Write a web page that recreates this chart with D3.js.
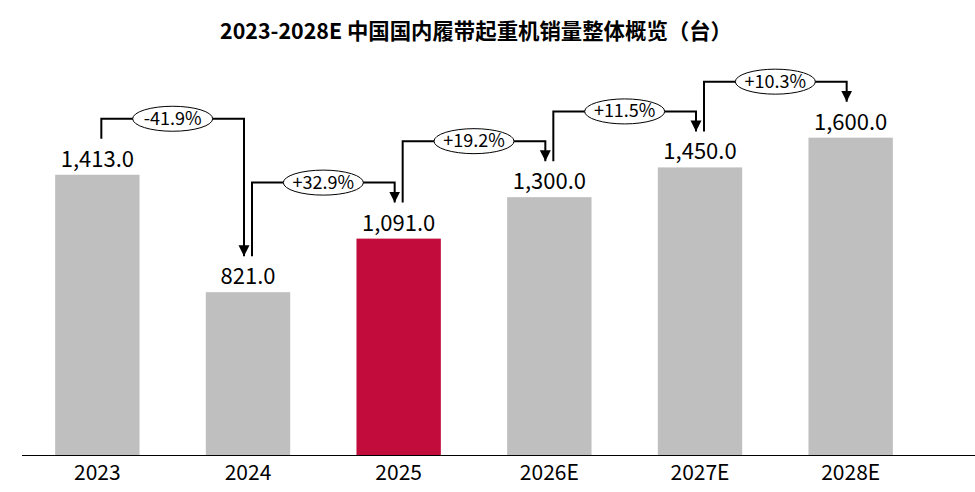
<!DOCTYPE html>
<html>
<head>
<meta charset="utf-8">
<script src="https://cdn.jsdelivr.net/npm/d3@7"></script>
<style>
  body { margin: 0; background: #fff; }
  text { font-family: "Noto Sans CJK SC", "Noto Sans", sans-serif; }
</style>
</head>
<body>
<div id="chart"></div>
<script>
const width = 975;
const height = 492;

const years = ["2023", "2024", "2025", "2026E", "2027E", "2028E"];
const sales = [1413, 821, 1091, 1300, 1450, 1600];
const growth = ["-41.9%", "+32.9%", "+19.2%", "+11.5%", "+10.3%"];
const highlight = "2025";

const title = "2023-2028E 中国国内履带起重机销量整体概览（台）";

const svg = d3.select("#chart")
  .append("svg")
  .attr("width", width)
  .attr("height", height);

const xScale = d3.scaleBand()
  .domain(years)
  .range([22, 926])
  .paddingInner(0.44)
  .paddingOuter(0.22);

const yScale = d3.scaleLinear()
  .domain([0, 1800])
  .range([455, 98]);

svg.append("text")
  .attr("x", 476)
  .attr("y", 39)
  .attr("text-anchor", "middle")
  .style("font-size", "21.4px")
  .style("font-weight", "bold")
  .text(title);

// bars
svg.append("g").selectAll("rect")
  .data(years)
  .enter()
  .append("rect")
  .attr("x", d => xScale(d))
  .attr("y", (d, i) => yScale(sales[i]))
  .attr("width", xScale.bandwidth())
  .attr("height", (d, i) => yScale(0) - yScale(sales[i]))
  .attr("fill", d => d === highlight ? "#c20d3c" : "#bfbfbf");

// value labels
svg.append("g").selectAll("text")
  .data(years)
  .enter()
  .append("text")
  .attr("x", d => xScale(d) + xScale.bandwidth() / 2)
  .attr("y", (d, i) => yScale(sales[i]) - 8)
  .attr("text-anchor", "middle")
  .style("font-size", "22px")
  .text((d, i) => d3.format(",.1f")(sales[i]));

// x axis
const xAxis = d3.axisBottom(xScale).tickSize(0).tickPadding(10);
const axisG = svg.append("g")
  .attr("transform", `translate(0,${yScale(0)})`)
  .call(xAxis);
axisG.select(".domain")
  .attr("d", `M22,0.5H${width}`)
  .attr("stroke", "#000");
axisG.selectAll("text")
  .style("font-size", "21px")
  .style("font-family", "\"Noto Sans CJK SC\", \"Noto Sans\", sans-serif")
  .attr("fill", "#000");

// growth arrows
svg.append("defs").append("marker")
  .attr("id", "head")
  .attr("viewBox", "0 0 10 10")
  .attr("refX", 10)
  .attr("refY", 5)
  .attr("markerUnits", "userSpaceOnUse")
  .attr("markerWidth", 11)
  .attr("markerHeight", 12)
  .attr("orient", "auto")
  .append("path")
  .attr("d", "M0,0L10,5L0,10Z")
  .attr("fill", "#000");

const arrows = svg.append("g");
growth.forEach((g, i) => {
  const x0 = xScale(years[i]) + xScale.bandwidth() / 2 + 4;
  const x1 = xScale(years[i + 1]) + xScale.bandwidth() / 2 - 4;
  const y0 = yScale(sales[i]) - 36;
  const y1 = yScale(sales[i + 1]) - 36;
  const yh = Math.min(y0, y1) - 20;

  arrows.append("path")
    .attr("d", `M${x0},${y0}V${yh}H${x1}V${y1}`)
    .attr("fill", "none")
    .attr("stroke", "#000")
    .attr("stroke-width", 2)
    .attr("marker-end", "url(#head)");

  const cx = (x0 + x1) / 2;
  arrows.append("ellipse")
    .attr("cx", cx)
    .attr("cy", yh)
    .attr("rx", 40)
    .attr("ry", 12.5)
    .attr("fill", "#fff")
    .attr("stroke", "#000")
    .attr("stroke-width", 1);

  arrows.append("text")
    .attr("x", cx)
    .attr("y", yh + 6)
    .attr("text-anchor", "middle")
    .style("font-size", "18px")
    .text(g);
});
</script>
</body>
</html>
